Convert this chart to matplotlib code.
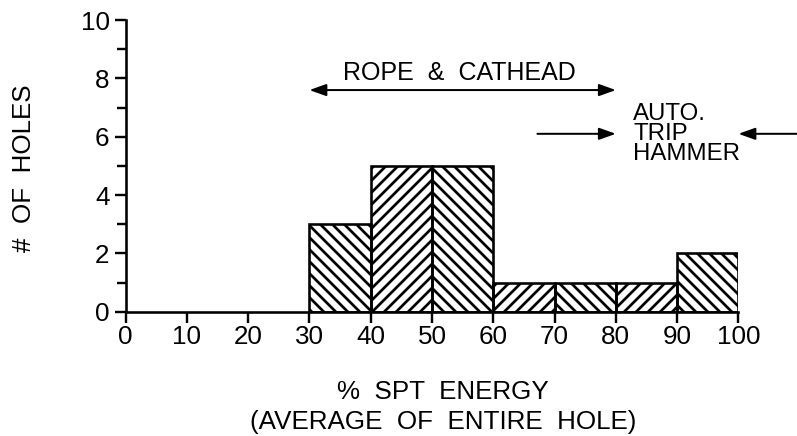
import matplotlib.pyplot as plt

plt.rcParams['font.family'] = ['Liberation Sans', 'DejaVu Sans']
plt.rcParams['hatch.linewidth'] = 2.7
plt.rcParams['hatch.color'] = 'black'

# histogram of SPT energy per hole
bin_left = [30, 40, 50, 60, 70, 80, 90]
holes = [3, 5, 5, 1, 1, 1, 2]
hatches = ['\\\\', '//', '\\\\', '//', '\\\\', '//', '\\\\']
x_ticks = [0, 10, 20, 30, 40, 50, 60, 70, 80, 90, 100]
y_ticks = [0, 2, 4, 6, 8, 10]

# dpi 72 keeps hatch spacing close to the scanned drawing
fig = plt.figure(figsize=(797 / 72, 436 / 72), dpi=72)
ax = fig.add_axes([0.1575, 0.285, 0.769, 0.669])

for x0, h, hat in zip(bin_left, holes, hatches):
    ax.bar(x0, h, width=10, align='edge', fill=False, edgecolor='black',
           linewidth=2.6, hatch=hat)

ax.set_xlim(0, 100)
ax.set_ylim(0, 10)
ax.set_xticks(x_ticks)
ax.set_yticks(y_ticks)
ax.set_yticks([1, 3, 5, 7, 9], minor=True)
ax.tick_params(axis='both', which='major', length=11, width=2.4, labelsize=26)
ax.tick_params(axis='x', which='major', pad=2)
ax.tick_params(axis='y', which='major', pad=5)
ax.tick_params(axis='y', which='minor', length=9, width=2.4)
for s in ['top', 'right']:
    ax.spines[s].set_visible(False)
for s in ['left', 'bottom']:
    ax.spines[s].set_linewidth(2.6)

fig.text(0.030, 0.615, '#  OF  HOLES', fontsize=26, rotation=90,
         ha='center', va='center')
fig.text(0.556, 0.084, '%  SPT  ENERGY', fontsize=26, ha='center', va='baseline')
fig.text(0.556, 0.016, '(AVERAGE  OF  ENTIRE  HOLE)', fontsize=26,
         ha='center', va='baseline')

head = 'head_length=0.7,head_width=0.25'
ax.annotate('', xy=(30, 7.6), xytext=(80, 7.6),
            arrowprops=dict(arrowstyle='<|-|>,' + head, color='black', lw=2,
                            mutation_scale=20, shrinkA=0, shrinkB=0))
ax.text(54.5, 8.2, 'ROPE  &  CATHEAD', fontsize=25, ha='center', va='center')

arrow = dict(arrowstyle='-|>,' + head, color='black', lw=2, mutation_scale=20,
             shrinkA=0, shrinkB=0)
ax.annotate('', xy=(80, 6.1), xytext=(67.2, 6.1), arrowprops=arrow,
            annotation_clip=False)
ax.annotate('', xy=(100, 6.1), xytext=(111, 6.1), arrowprops=arrow,
            annotation_clip=False)
ax.text(82.8, 6.09, 'AUTO.\nTRIP\nHAMMER', fontsize=24, ha='left', va='center',
        linespacing=0.9)

fig.savefig('out.png', dpi=72)
